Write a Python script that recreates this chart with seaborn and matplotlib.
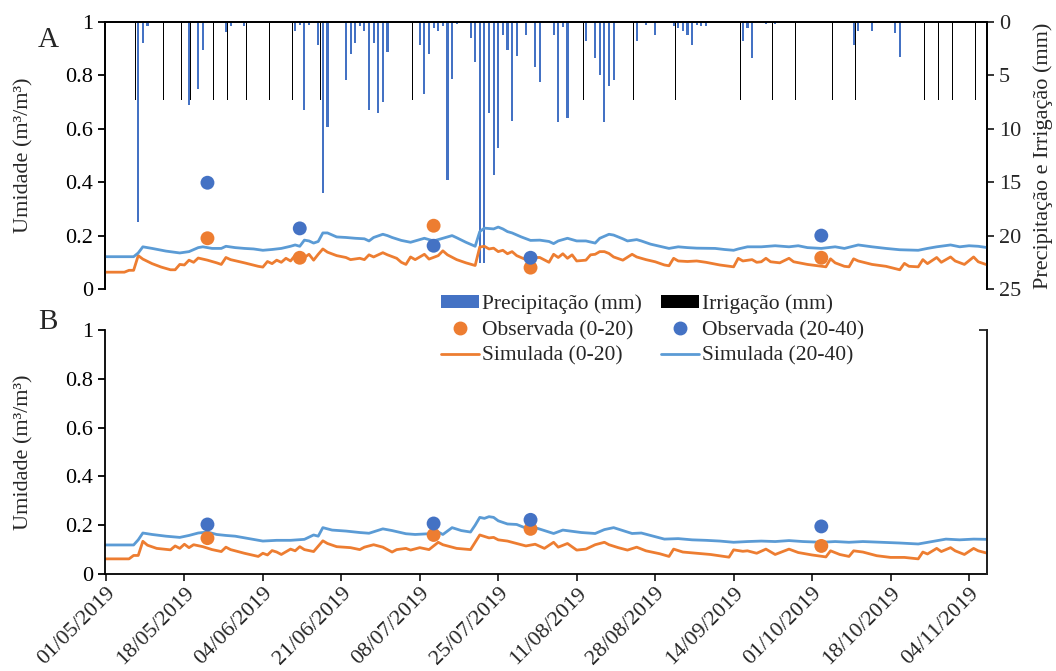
import numpy as np
import pandas as pd
import matplotlib
matplotlib.use('Agg')
import matplotlib.pyplot as plt
import matplotlib.dates as mdates
from matplotlib.lines import Line2D
from matplotlib.patches import Patch
import seaborn as sns

# days are counted from 01/05/2019
start = pd.Timestamp('2019-05-01')

precip_day = [7, 8, 9, 18, 20, 21, 26, 27, 30, 41,
              42, 43, 44, 46, 47, 48, 52, 53, 54, 55,
              56, 57, 58, 59, 60, 61, 68, 69, 70, 71,
              72, 73, 74, 75, 76, 79, 80, 81, 82, 83,
              84, 85, 86, 87, 88, 89, 91, 93, 94, 97,
              98, 99, 100, 104, 106, 107, 108, 109, 110, 115,
              117, 119, 123, 124, 125, 126, 127, 128, 129, 130,
              138, 139, 140, 143, 145, 162, 163, 166, 171, 172]
precip_mm = [18.7, 2.0, 0.4, 7.8, 6.3, 2.6, 0.9, 0.4, 0.4, 0.8,
             0.3, 8.2, 0.3, 2.2, 16.0, 9.8, 5.4, 3.0, 2.0, 0.4,
             0.8, 8.2, 2.0, 8.5, 7.5, 2.8, 2.2, 6.7, 3.0, 0.6,
             0.8, 0.4, 14.8, 5.3, 0.2, 1.5, 3.7, 22.6, 22.6, 8.5,
             14.3, 11.8, 1.2, 2.6, 9.3, 3.2, 1.2, 4.2, 5.6, 1.2,
             9.4, 0.5, 9.0, 1.8, 3.4, 5.0, 9.4, 6.0, 5.4, 1.8,
             0.3, 1.2, 0.4, 0.6, 0.8, 1.2, 2.2, 0.3, 0.4, 0.4,
             1.8, 0.6, 3.4, 0.2, 0.2, 2.2, 0.8, 0.8, 1.0, 3.3]

irrig_day = [6, 12, 16, 18, 23, 26, 30, 35, 40, 46, 66, 103,
             114, 123, 137, 144, 149, 157, 162, 177, 180, 183, 188]
irrig_mm = [7.3, 7.3, 7.3, 7.3, 7.3, 7.3, 7.3, 7.3, 7.3, 7.3, 7.3, 7.3,
            7.3, 7.3, 7.3, 7.3, 7.3, 7.3, 7.3, 7.3, 7.3, 7.3, 7.3]

obs_day_a = [22, 42, 71, 92, 155]
obs_a_020 = [0.19, 0.117, 0.237, 0.08, 0.117]
obs_a_2040 = [0.398, 0.227, 0.162, 0.117, 0.2]

obs_day_b = [22, 71, 92, 155]
obs_b_020 = [0.147, 0.16, 0.185, 0.115]
obs_b_2040 = [0.203, 0.207, 0.222, 0.195]

sim_a_020_day = [0, 4, 5, 6, 7, 8, 10, 12, 14, 15,
                 16, 17, 18, 19, 20, 22, 24, 25, 26, 27,
                 30, 33, 34, 35, 36, 37, 38, 39, 40, 41,
                 42, 43, 44, 45, 46, 47, 48, 50, 52, 53,
                 55, 56, 57, 58, 60, 61, 63, 64, 65, 66,
                 67, 69, 70, 72, 73, 74, 76, 78, 80, 81,
                 82, 83, 84, 85, 86, 87, 88, 89, 91, 92,
                 93, 94, 96, 97, 98, 99, 100, 101, 102, 104,
                 105, 106, 107, 108, 109, 110, 112, 114, 115, 117,
                 119, 121, 122, 123, 124, 126, 128, 130, 133, 136,
                 137, 138, 140, 141, 142, 143, 144, 146, 148, 149,
                 152, 155, 156, 157, 158, 160, 161, 162, 163, 166,
                 169, 172, 173, 174, 176, 177, 178, 180, 181, 183,
                 184, 186, 188, 189, 191]
sim_a_020 = [0.063, 0.063, 0.07, 0.07, 0.125, 0.112, 0.095, 0.082, 0.072, 0.072,
             0.092, 0.09, 0.108, 0.1, 0.116, 0.108, 0.098, 0.092, 0.118, 0.11,
             0.098, 0.085, 0.082, 0.103, 0.095, 0.108, 0.1, 0.115, 0.105, 0.126,
             0.112, 0.118, 0.13, 0.108, 0.13, 0.15, 0.138, 0.125, 0.118, 0.11,
             0.115, 0.11, 0.128, 0.12, 0.136, 0.128, 0.115, 0.1, 0.092, 0.12,
             0.11, 0.13, 0.112, 0.125, 0.143, 0.128, 0.11, 0.098, 0.088, 0.157,
             0.16, 0.15, 0.153, 0.14, 0.145, 0.132, 0.14, 0.125, 0.11, 0.1,
             0.118, 0.118, 0.1, 0.13, 0.118, 0.132, 0.115, 0.128, 0.105, 0.108,
             0.128, 0.13, 0.14, 0.14, 0.133, 0.12, 0.108, 0.13, 0.12, 0.11,
             0.102, 0.09, 0.087, 0.115, 0.105, 0.103, 0.105, 0.1, 0.09, 0.083,
             0.115, 0.105, 0.11, 0.1, 0.102, 0.115, 0.102, 0.098, 0.115, 0.102,
             0.092, 0.085, 0.083, 0.113, 0.098, 0.085, 0.083, 0.113, 0.105, 0.092,
             0.085, 0.072, 0.096, 0.085, 0.083, 0.11, 0.095, 0.118, 0.1, 0.12,
             0.105, 0.092, 0.12, 0.102, 0.09]

sim_a_2040_day = [0, 6, 7, 8, 10, 13, 16, 18, 20, 21,
                  23, 25, 26, 28, 30, 32, 34, 36, 38, 40,
                  41, 42, 43, 44, 45, 46, 47, 48, 50, 52,
                  54, 56, 57, 58, 60, 61, 62, 64, 66, 67,
                  69, 71, 74, 75, 76, 78, 80, 81, 82, 84,
                  85, 86, 87, 88, 90, 92, 94, 96, 97, 98,
                  100, 102, 104, 106, 107, 109, 110, 112, 113, 115,
                  116, 118, 120, 122, 124, 126, 128, 132, 134, 136,
                  137, 139, 142, 145, 148, 150, 152, 155, 158, 160,
                  163, 166, 169, 172, 176, 178, 180, 183, 185, 187,
                  189, 191]
sim_a_2040 = [0.121, 0.121, 0.135, 0.158, 0.152, 0.142, 0.135, 0.14, 0.155, 0.158,
              0.152, 0.152, 0.16, 0.155, 0.152, 0.15, 0.145, 0.148, 0.152, 0.16,
              0.165, 0.16, 0.183, 0.18, 0.172, 0.178, 0.21, 0.21, 0.195, 0.193,
              0.19, 0.188, 0.18, 0.193, 0.205, 0.2, 0.193, 0.182, 0.175, 0.18,
              0.19, 0.18, 0.195, 0.2, 0.192, 0.175, 0.16, 0.215, 0.228, 0.225,
              0.232, 0.225, 0.215, 0.21, 0.195, 0.182, 0.183, 0.178, 0.17, 0.18,
              0.19, 0.18, 0.18, 0.172, 0.19, 0.205, 0.202, 0.188, 0.18, 0.185,
              0.18, 0.168, 0.16, 0.152, 0.158, 0.155, 0.153, 0.152, 0.148, 0.145,
              0.15, 0.158, 0.158, 0.162, 0.158, 0.162, 0.155, 0.152, 0.158, 0.152,
              0.165, 0.158, 0.152, 0.147, 0.145, 0.152, 0.158, 0.165, 0.158, 0.162,
              0.16, 0.155]

sim_b_020_day = [0, 5, 6, 7, 8, 9, 11, 14, 15, 16,
                 17, 18, 19, 21, 23, 25, 26, 27, 30, 33,
                 34, 35, 36, 37, 38, 40, 41, 42, 43, 45,
                 47, 48, 50, 53, 55, 56, 58, 60, 62, 63,
                 65, 66, 68, 70, 72, 73, 76, 79, 81, 83,
                 84, 85, 87, 89, 91, 93, 95, 97, 98, 100,
                 102, 104, 106, 108, 109, 111, 113, 115, 117, 120,
                 122, 123, 125, 128, 131, 135, 136, 138, 139, 141,
                 143, 145, 148, 150, 153, 156, 157, 159, 161, 162,
                 164, 167, 170, 173, 176, 177, 178, 180, 181, 183,
                 184, 186, 188, 189, 191]
sim_b_020 = [0.062, 0.062, 0.076, 0.076, 0.134, 0.118, 0.105, 0.099, 0.115, 0.105,
             0.122, 0.108, 0.12, 0.112, 0.1, 0.092, 0.11, 0.1, 0.085, 0.072,
             0.085, 0.078, 0.096, 0.09, 0.08, 0.102, 0.095, 0.112, 0.1, 0.092,
             0.136, 0.125, 0.112, 0.108, 0.1, 0.11, 0.12, 0.11, 0.09, 0.1,
             0.105, 0.098, 0.108, 0.1, 0.13, 0.12, 0.105, 0.1, 0.16, 0.148,
             0.15, 0.14, 0.135, 0.125, 0.115, 0.122, 0.105, 0.13, 0.11, 0.125,
             0.098, 0.102, 0.12, 0.13, 0.12, 0.108, 0.098, 0.11, 0.095, 0.083,
             0.072, 0.102, 0.09, 0.085, 0.08, 0.069, 0.099, 0.093, 0.095, 0.085,
             0.102, 0.08, 0.102, 0.088, 0.078, 0.07, 0.095, 0.08, 0.072, 0.095,
             0.09, 0.075, 0.068, 0.068, 0.062, 0.09, 0.082, 0.105, 0.092, 0.108,
             0.095, 0.08, 0.105, 0.095, 0.085]

sim_b_2040_day = [0, 6, 7, 8, 10, 13, 16, 18, 20, 22,
                  24, 26, 28, 31, 34, 37, 40, 43, 45, 46,
                  47, 49, 52, 55, 57, 60, 62, 65, 67, 70,
                  72, 73, 75, 77, 79, 80, 81, 82, 83, 84,
                  85, 87, 89, 91, 93, 95, 97, 99, 101, 103,
                  106, 108, 110, 112, 114, 116, 118, 121, 124, 127,
                  130, 133, 136, 139, 142, 145, 148, 151, 155, 158,
                  161, 164, 168, 172, 176, 179, 182, 185, 188, 191]
sim_b_2040 = [0.119, 0.119, 0.14, 0.168, 0.162, 0.155, 0.15, 0.158, 0.168, 0.172,
              0.162, 0.158, 0.155, 0.145, 0.135, 0.138, 0.138, 0.142, 0.16, 0.155,
              0.19, 0.18, 0.176, 0.17, 0.167, 0.185, 0.178, 0.165, 0.162, 0.165,
              0.172, 0.162, 0.19, 0.178, 0.172, 0.2, 0.232, 0.228, 0.235, 0.232,
              0.218, 0.205, 0.203, 0.188, 0.19, 0.178, 0.166, 0.18, 0.175, 0.17,
              0.166, 0.182, 0.19, 0.178, 0.166, 0.168, 0.158, 0.143, 0.145, 0.14,
              0.138, 0.135, 0.13, 0.133, 0.135, 0.133, 0.137, 0.133, 0.13, 0.133,
              0.13, 0.133, 0.13, 0.127, 0.123, 0.133, 0.143, 0.14, 0.143, 0.142]

tick_day = [0, 17, 34, 51, 68, 85, 102, 119, 136, 153, 170, 187]
moist_ticks = [0, 0.2, 0.4, 0.6, 0.8, 1.0]
rain_ticks = [0, 5, 10, 15, 20, 25]

ORANGE = '#ED7D31'
LIGHT_BLUE = '#5B9BD5'
DARK_BLUE = '#4472C4'
FS = 16


def to_dates(days, shift=0.0):
    return start + pd.to_timedelta(np.asarray(days, dtype=float) + shift, unit='D')


sns.set_style('ticks')
plt.rcParams['font.family'] = ['Liberation Serif', 'DejaVu Serif']
plt.rcParams['font.size'] = FS
plt.rcParams['axes.linewidth'] = 1.3

fig = plt.figure(figsize=(10.56, 6.71), dpi=100)
ax_a = fig.add_axes([105 / 1056, 1 - 289 / 671, 882 / 1056, 267 / 671])
ax_b = fig.add_axes([105 / 1056, 1 - 574 / 671, 882 / 1056, 244 / 671])

x0 = mdates.date2num(start)
xlim = (x0 - 0.2, x0 + 190.9)


def fmt_moist(ax):
    ax.set_ylim(0, 1)
    ax.set_yticks(moist_ticks)
    ax.set_yticklabels([f'{v:g}' for v in moist_ticks])
    ax.tick_params(axis='y', direction='out', length=5, width=1.3, colors='black', labelsize=FS)
    ax.set_ylabel('Umidade (m³/m³)', fontsize=FS)
    ax.yaxis.set_label_coords(-0.081, 0.5)


# ---- panel A: moisture + rain/irrigation on inverted secondary axis
ax_a2 = ax_a.twinx()
ax_a2.bar(to_dates(precip_day), precip_mm, width=0.45, color=DARK_BLUE, linewidth=0)
ax_a2.bar(to_dates(irrig_day, 0.4), irrig_mm, width=0.22, color='black', linewidth=0)
ax_a2.set_ylim(25, 0)
ax_a2.set_yticks(rain_ticks)
ax_a2.tick_params(axis='y', direction='out', length=5, width=1.3, labelsize=FS)
ax_a2.set_ylabel('Precipitação e Irrigação (mm)', fontsize=FS)
ax_a2.yaxis.set_label_coords(1.053, 0.5)

sns.lineplot(x=to_dates(sim_a_020_day), y=sim_a_020, ax=ax_a, color=ORANGE,
             linewidth=2.0, estimator=None)
sns.lineplot(x=to_dates(sim_a_2040_day), y=sim_a_2040, ax=ax_a, color=LIGHT_BLUE,
             linewidth=2.0, estimator=None)
sns.scatterplot(x=to_dates(obs_day_a), y=obs_a_020, ax=ax_a, color=ORANGE,
                s=100, edgecolor='none', zorder=4)
sns.scatterplot(x=to_dates(obs_day_a), y=obs_a_2040, ax=ax_a, color=DARK_BLUE,
                s=100, edgecolor='none', zorder=4)

ax_a.set_zorder(ax_a2.get_zorder() + 1)
ax_a.patch.set_visible(False)
fmt_moist(ax_a)
ax_a.set_xlim(xlim)
ax_a.tick_params(axis='x', bottom=False, labelbottom=False)
ax_a.set_xlabel('')
for ax in (ax_a, ax_a2):
    ax.spines['bottom'].set_visible(False)
    for s in ('top', 'left', 'right'):
        ax.spines[s].set_visible(True)
        ax.spines[s].set_color('black')
        ax.spines[s].set_linewidth(1.3)

# ---- panel B
sns.lineplot(x=to_dates(sim_b_020_day), y=sim_b_020, ax=ax_b, color=ORANGE,
             linewidth=2.0, estimator=None)
sns.lineplot(x=to_dates(sim_b_2040_day), y=sim_b_2040, ax=ax_b, color=LIGHT_BLUE,
             linewidth=2.0, estimator=None)
sns.scatterplot(x=to_dates(obs_day_b), y=obs_b_020, ax=ax_b, color=ORANGE,
                s=100, edgecolor='none', zorder=4)
sns.scatterplot(x=to_dates(obs_day_b), y=obs_b_2040, ax=ax_b, color=DARK_BLUE,
                s=100, edgecolor='none', zorder=4)
fmt_moist(ax_b)
ax_b.set_xlim(xlim)
ax_b.set_xticks(to_dates(tick_day))
ax_b.xaxis.set_major_formatter(mdates.DateFormatter('%d/%m/%Y'))
ax_b.tick_params(axis='x', direction='out', length=5, width=1.3, labelsize=FS, pad=2)
for lab in ax_b.get_xticklabels():
    lab.set_rotation(45)
    lab.set_ha('right')
    lab.set_rotation_mode('anchor')
ax_b.set_xlabel('')
ax_b.spines['top'].set_visible(False)
for s in ('left', 'bottom', 'right'):
    ax_b.spines[s].set_visible(True)
    ax_b.spines[s].set_color('black')
    ax_b.spines[s].set_linewidth(1.3)

ax_b2 = ax_b.twinx()
ax_b2.set_ylim(0, 1)
ax_b2.set_yticks([1.0])
ax_b2.set_yticklabels([''])
ax_b2.tick_params(axis='y', direction='in', length=6, width=1.3)
for s in ('top', 'bottom', 'left'):
    ax_b2.spines[s].set_visible(False)

fig.text(48 / 1056, 1 - 40 / 671, 'A', fontsize=21, ha='center', va='center')
fig.text(48 / 1056, 1 - 322 / 671, 'B', fontsize=21, ha='center', va='center')

handles = [
    Patch(facecolor=DARK_BLUE, edgecolor='none'),
    Line2D([], [], marker='o', linestyle='none', color=ORANGE, markersize=9),
    Line2D([], [], color=ORANGE, linewidth=2.0),
    Patch(facecolor='black', edgecolor='none'),
    Line2D([], [], marker='o', linestyle='none', color=DARK_BLUE, markersize=9),
    Line2D([], [], color=LIGHT_BLUE, linewidth=2.0),
]
labels = ['Precipitação (mm)', 'Observada (0-20)', 'Simulada (0-20)',
          'Irrigação (mm)', 'Observada (20-40)', 'Simulada (20-40)']
fig.legend(handles, labels, ncol=2, loc='center', bbox_to_anchor=(0.618, 0.508),
           frameon=False, fontsize=15.5, handlelength=1.75, handleheight=0.55,
           handletextpad=0.15, columnspacing=0.9, labelspacing=0.3, borderaxespad=0)

for ax in (ax_a, ax_b):
    if ax.get_legend() is not None:
        ax.get_legend().remove()

fig.savefig('out.png', dpi=100)
